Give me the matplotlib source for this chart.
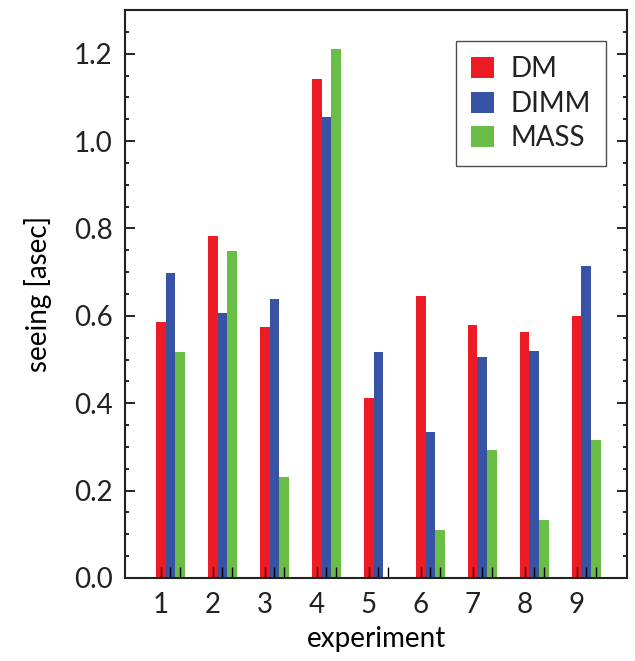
import matplotlib
matplotlib.use('Agg')
import matplotlib.pyplot as plt
import numpy as np
from matplotlib.ticker import MultipleLocator, FixedLocator

# значения
experiments = ['1', '2', '3', '4', '5', '6', '7', '8', '9']
dm = [0.586, 0.782, 0.574, 1.141, 0.411, 0.645, 0.578, 0.562, 0.599]
dimm = [0.698, 0.606, 0.638, 1.056, 0.517, 0.334, 0.505, 0.519, 0.713]
mass = [0.517, 0.748, 0.232, 1.211, 0.0, 0.110, 0.293, 0.133, 0.315]
series = ['DM', 'DIMM', 'MASS']
colors = ['#ED1C24', '#3953A4', '#6ABD45']

plt.rcParams['font.family'] = ['Lato', 'DejaVu Sans']
plt.rcParams['text.color'] = '#222222'
plt.rcParams['xtick.labelcolor'] = '#222222'
plt.rcParams['ytick.labelcolor'] = '#222222'

fig = plt.figure(figsize=(6.35, 6.61), dpi=100)
ax = fig.add_axes([0.1969, 0.1256, 0.7905, 0.8593])

x = np.arange(1, len(experiments) + 1)
w = 0.185
for k, (vals, name, c) in enumerate(zip([dm, dimm, mass], series, colors)):
    ax.bar(x + k * w, vals, w, color=c, label=name, linewidth=0)

ax.set_xlim(0.31, 9.97)
ax.set_ylim(0, 1.3)

ax.xaxis.set_major_locator(FixedLocator(x))
ax.set_xticklabels(experiments)
ax.xaxis.set_minor_locator(FixedLocator(np.concatenate([x + w, x + 2 * w])))
ax.tick_params(axis='x', which='both', direction='in', length=8, width=1,
               top=False, bottom=True, labelsize=20, pad=10)

ax.yaxis.set_major_locator(MultipleLocator(0.2))
ax.yaxis.set_minor_locator(MultipleLocator(0.05))
ax.yaxis.set_major_formatter(matplotlib.ticker.FormatStrFormatter('%.1f'))
ax.tick_params(axis='y', which='major', direction='in', length=7.2, width=1.2,
               left=True, right=True, labelsize=20, pad=9)
ax.tick_params(axis='y', which='minor', direction='in', length=3.2, width=1.2,
               left=True, right=True)

for sp in ax.spines.values():
    sp.set_linewidth(1.5)
    sp.set_color('#222222')

ax.set_xlabel('experiment', fontsize=20, labelpad=6)
ax.set_ylabel('seeing [asec]', fontsize=20, labelpad=16)

leg = ax.legend(loc='upper right', bbox_to_anchor=(0.958, 0.945), borderaxespad=0,
                fontsize=20, frameon=True, fancybox=False, handlelength=0.8,
                handleheight=0.8, handletextpad=0.6, labelspacing=0.3, borderpad=0.55)
leg.get_frame().set_edgecolor('#222222')
leg.get_frame().set_linewidth(1.0)

fig.savefig('out.png', dpi=100)
